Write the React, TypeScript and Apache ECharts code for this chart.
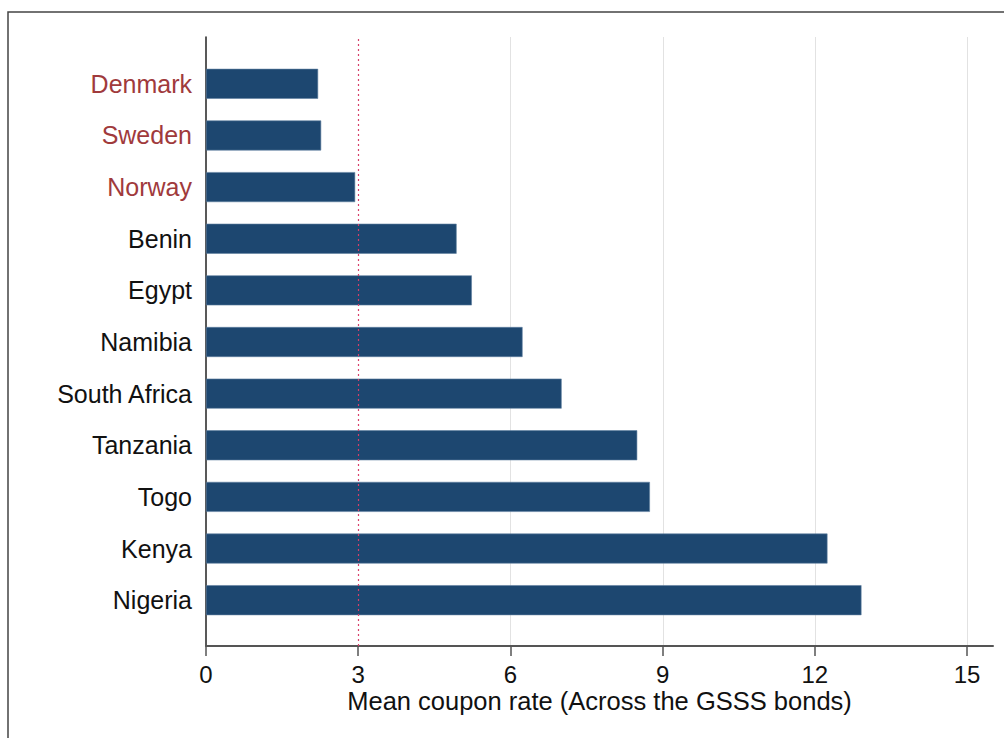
import React, { useEffect, useRef } from "react";
import * as echarts from "echarts";

const countries = ["Denmark", "Sweden", "Norway", "Benin", "Egypt", "Namibia", "South Africa", "Tanzania", "Togo", "Kenya", "Nigeria"];
const couponRates = [2.21, 2.27, 2.94, 4.94, 5.24, 6.24, 7.01, 8.5, 8.75, 12.25, 12.92];
const highlighted = ["Denmark", "Sweden", "Norway"];
const xTicks = [0, 3, 6, 9, 12, 15];
const referenceRate = 3;
const axisTitle = "Mean coupon rate (Across the GSSS bonds)";

const FONT = "'Liberation Sans', Arial, sans-serif";

export default function App() {
  const ref = useRef<HTMLDivElement>(null);
  useEffect(() => {
    if (!ref.current) return;
    const chart = echarts.init(ref.current, null, { renderer: "svg" });
    const option = {
      animation: false,
      backgroundColor: "#ffffff",
      textStyle: { fontFamily: FONT },
      graphic: [
        {
          type: "rect",
          shape: { x: 8, y: 12, width: 1010, height: 740 },
          style: { fill: "none", stroke: "#444", lineWidth: 1.5 },
          silent: true,
        },
      ],
      grid: [
        { left: 206, top: 58, width: 761, height: 568 },
        { left: 206, top: 37, width: 787, height: 609 },
      ],
      xAxis: [
        {
          type: "value",
          gridIndex: 0,
          min: xTicks[0],
          max: xTicks[xTicks.length - 1],
          interval: 3,
          offset: 20,
          axisLine: { show: false },
          axisTick: { show: true, length: 10, lineStyle: { color: "#555", width: 1.5 } },
          axisLabel: { show: true, fontSize: 24, color: "#111", margin: 16, fontFamily: FONT },
          splitLine: { show: false },
        },
        {
          type: "value",
          gridIndex: 1,
          min: 0,
          max: 15.5,
          interval: 3,
          axisLine: { show: true, lineStyle: { color: "#555", width: 2 } },
          axisTick: { show: false },
          axisLabel: { show: false },
          splitLine: {
            show: true,
            lineStyle: {
              color: ["rgba(0,0,0,0)", "rgba(0,0,0,0)", "#e2e2e2", "#e2e2e2", "#e2e2e2", "#e2e2e2", "rgba(0,0,0,0)"],
              width: 1,
            },
          },
          name: axisTitle,
          nameLocation: "middle",
          nameGap: 42,
          nameTextStyle: { fontSize: 25.5, color: "#111", fontFamily: FONT },
        },
      ],
      yAxis: [
        {
          type: "category",
          gridIndex: 0,
          inverse: true,
          data: countries.map((c) => ({
            value: c,
            textStyle: { color: highlighted.includes(c) ? "#a03a3c" : "#111" },
          })),
          axisLine: { show: false },
          axisTick: { show: false },
          axisLabel: { fontSize: 25, margin: 14, fontFamily: FONT },
        },
        {
          type: "value",
          gridIndex: 1,
          min: 0,
          max: 1,
          axisLine: { show: true, onZero: false, lineStyle: { color: "#222", width: 1.5 } },
          axisTick: { show: false },
          axisLabel: { show: false },
          splitLine: { show: false },
        },
      ],
      series: [
        {
          type: "line",
          xAxisIndex: 1,
          yAxisIndex: 1,
          data: [],
          silent: true,
          markLine: {
            silent: true,
            symbol: "none",
            label: { show: false },
            lineStyle: { color: "#d6406a", type: [2, 3], width: 1.2 },
            data: [{ xAxis: referenceRate }],
          },
          z: 1,
        },
        {
          type: "bar",
          xAxisIndex: 0,
          yAxisIndex: 0,
          data: couponRates,
          barWidth: 30,
          itemStyle: { color: "#1d4770", borderColor: "#5f7fa0", borderWidth: 0.6 },
          z: 3,
        },
      ],
    };
    chart.setOption(option as any);
    return () => chart.dispose();
  }, []);
  return (
    <div
      ref={ref}
      style={{ position: "fixed", left: 0, top: 0, width: 1004, height: 738 }}
    />
  );
}
